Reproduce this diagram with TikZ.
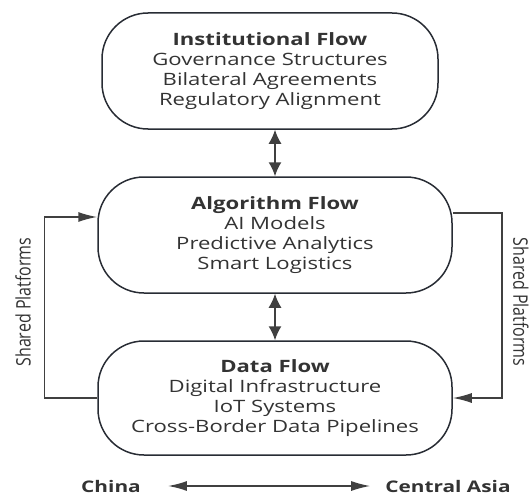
\documentclass[tikz,border=0pt]{standalone}
\usepackage{fontspec}
\setmainfont{Open Sans}[FakeStretch=1.3]
\newfontfamily\sidefont{Open Sans}
\usepackage{xcolor}
\definecolor{tgray}{RGB}{51,51,51}
\definecolor{tline}{RGB}{40,44,52}
\usetikzlibrary{arrows.meta}

\begin{document}
\begin{tikzpicture}[x=1pt,y=-1pt]
\tikzstyle{flowBox} = [
  shape=rectangle,
  rounded corners=46pt,
  draw = tline,
  line width = 1.5,
  minimum width=354pt,
  minimum height=116pt,
  align=center,
  text = tgray,
  font = \fontsize{17}{20}\selectfont
]
\tikzstyle{tedge} = [
  draw = black!75,
  line width = 1.5,
  -{Latex[length=19pt,width=10pt]}
]
\tikzstyle{vedge} = [
  draw = black!75,
  line width = 1.5,
  {Latex[length=14pt,width=13pt]}-{Latex[length=14pt,width=13pt]}
]
\tikzstyle{sideLabel} = [
  text = tgray,
  font = \sidefont\fontsize{16}{19}\selectfont
]
\tikzstyle{endLabel} = [
  inner sep=0pt,
  text = tgray,
  font = \fontsize{16}{19}\selectfont\bfseries
]

\useasboundingbox (0,0) rectangle (530,495);

\node[flowBox, minimum width=336pt] (inst) at (270,71) {\textbf{Institutional Flow}\\Governance Structures\\Bilateral Agreements\\Regulatory Alignment};
\node[flowBox] (algo) at (275,235) {\textbf{Algorithm Flow}\\AI Models\\Predictive Analytics\\Smart Logistics};
\node[flowBox, minimum height=114pt] (data) at (275,398) {\textbf{Data Flow}\\Digital Infrastructure\\IoT Systems\\Cross-Border Data Pipelines};

\draw[vedge] (inst.south -| algo.north) -- (algo.north);
\draw[vedge] (algo.south) -- (data.north);

\draw[tedge] (data.west) -- ++(-53,0) |- ([yshift=18pt]algo.west);
\draw[tedge] ([yshift=22pt]algo.east) -- ++(49,0) |- (data.east);

\node[sideLabel, rotate=90] (shl) at (23,302) {\scalebox{1}[1.25]{Shared Platforms}};
\node[sideLabel, rotate=-90] (shr) at (521,302) {\scalebox{1}[1.25]{Shared Platforms}};

\node[endLabel] (china) at (111,486) {China};
\node[endLabel] (asia) at (448,486) {Central Asia};
\draw[tedge, {Latex[length=19pt,width=10pt]}-{Latex[length=19pt,width=10pt]}, shorten <=27pt, shorten >=15pt] (china.east) -- (asia.west);

\end{tikzpicture}
\end{document}
